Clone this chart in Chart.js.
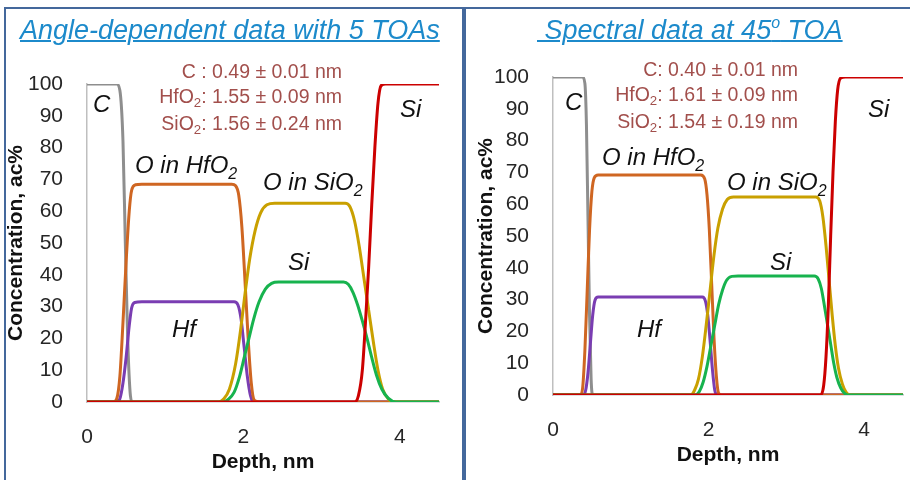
<!DOCTYPE html>
<html>
<head>
<meta charset="utf-8">
<script src="https://cdn.jsdelivr.net/npm/chart.js@4.4.1/dist/chart.umd.min.js"></script>
<style>
  html, body { margin: 0; padding: 0; background: #ffffff; }
  body { width: 910px; height: 480px; position: relative; overflow: hidden; font-family: "Liberation Sans", Arial, sans-serif; }
  canvas { position: absolute; }
  .frame { position: absolute; background: #44689C; }
  .title { position: absolute; font-style: italic; font-size: 27px; line-height: 27px; color: #1C8ACB; text-decoration: underline; text-decoration-thickness: 1.5px; white-space: pre; }
  .title sup { font-size: 16px; vertical-align: 0; position: relative; top: -11px; text-decoration: none; }
  .note { position: absolute; text-align: right; font-size: 19.5px; line-height: 25px; color: #A24F4C; white-space: nowrap; }
  .lbl { position: absolute; font-style: italic; font-size: 24px; line-height: 24px; color: #111111; white-space: nowrap; }
  .sub { font-size: 0.68em; position: relative; top: 0.3em; }
  .lbl .sub { font-size: 16px; top: 6px; }
</style>
</head>
<body>
<div class="frame" style="left:4px; top:7px; width:906px; height:2px;"></div>
<div class="frame" style="left:4px; top:7px; width:2px; height:473px;"></div>
<div class="frame" style="left:462px; top:7px; width:4px; height:473px;"></div>

<canvas id="leftChart" width="445" height="480" style="left:0px; top:0px;"></canvas>
<canvas id="rightChart" width="440" height="480" style="left:470px; top:-7px;"></canvas>

<div class="title" style="left:20px; top:17px;">Angle-dependent data with 5 TOAs</div>
<div class="title" style="left:537px; top:17px;">&nbsp;Spectral data at 45<sup>o</sup> TOA</div>

<div class="note" style="left:142px; width:200px; top:59px;">C : 0.49 ± 0.01 nm<br>HfO<span class="sub">2</span>: 1.55 ± 0.09 nm<br>SiO<span class="sub">2</span>: 1.56 ± 0.24 nm</div>
<div class="note" style="left:598px; width:200px; top:57px;">C: 0.40 ± 0.01 nm<br>HfO<span class="sub">2</span>: 1.61 ± 0.09 nm<br>SiO<span class="sub">2</span>: 1.54 ± 0.19 nm</div>

<div class="lbl" style="left:93px; top:92px;">C</div>
<div class="lbl" style="left:135px; top:153px;">O in HfO<span class="sub">2</span></div>
<div class="lbl" style="left:263px; top:170px;">O in SiO<span class="sub">2</span></div>
<div class="lbl" style="left:288px; top:250px;">Si</div>
<div class="lbl" style="left:172px; top:317px;">Hf</div>
<div class="lbl" style="left:400px; top:97px;">Si</div>

<div class="lbl" style="left:565px; top:90px;">C</div>
<div class="lbl" style="left:602px; top:145px;">O in HfO<span class="sub">2</span></div>
<div class="lbl" style="left:727px; top:170px;">O in SiO<span class="sub">2</span></div>
<div class="lbl" style="left:770px; top:250px;">Si</div>
<div class="lbl" style="left:637px; top:317px;">Hf</div>
<div class="lbl" style="left:868px; top:97px;">Si</div>

<script>
// ---------- Data (depth nm, concentration ac%) ----------
const xTicks = [0, 2, 4];
const yTicks = [0, 10, 20, 30, 40, 50, 60, 70, 80, 90, 100];
const seriesNames = ["Si", "Si in SiO2", "O in SiO2", "O in HfO2", "Hf", "C"];

// Left panel: angle-dependent data with 5 TOAs
const leftSiSub = [[0,0],[3.42,0],[3.47,2],[3.52,10],[3.56,25],[3.6,42],[3.64,62],[3.68,80],[3.72,94],[3.76,99.5],[3.82,100],[4.5,100]];
const leftSiOx  = [[0,0],[1.74,0],[1.8,0.7],[1.88,3],[1.95,8],[2.01,14],[2.07,20],[2.13,26],[2.2,31.5],[2.28,35.5],[2.36,37.3],[2.45,37.7],[3.28,37.7],[3.34,37],[3.4,34.5],[3.46,30.5],[3.52,25.5],[3.58,20],[3.64,14],[3.7,8.5],[3.77,4],[3.85,1.2],[3.95,0],[4.5,0]];
const leftOSiO2 = [[0,0],[1.68,0],[1.75,1],[1.82,4],[1.9,12],[1.96,22],[2.02,34],[2.08,45],[2.15,54],[2.22,59.5],[2.3,62],[2.4,62.5],[3.3,62.5],[3.36,61.5],[3.42,57],[3.48,49],[3.54,39],[3.6,29],[3.66,19],[3.72,10],[3.78,4],[3.85,1],[3.92,0],[4.5,0]];
const leftOHfO2 = [[0,0],[0.34,0],[0.38,1],[0.42,8],[0.46,25],[0.5,44],[0.54,60],[0.57,66.5],[0.62,68.3],[0.7,68.5],[1.85,68.5],[1.9,68],[1.94,65],[1.98,55],[2.02,38],[2.06,20],[2.1,6],[2.14,0.5],[2.2,0],[4.5,0]];
const leftHf    = [[0,0],[0.38,0],[0.42,1],[0.46,6],[0.5,14],[0.54,24],[0.57,29.5],[0.61,31.3],[0.7,31.5],[1.88,31.5],[1.93,30.5],[1.97,26],[2.01,17],[2.05,8],[2.09,2],[2.13,0],[4.5,0]];
const leftC     = [[0,100],[0.38,100],[0.42,98],[0.46,82],[0.49,50],[0.52,20],[0.555,2],[0.58,0],[4.5,0]];

// Right panel: spectral data at 45 deg TOA
const rightSiSub = [[0,0],[3.44,0],[3.48,3],[3.51,12],[3.54,28],[3.57,50],[3.6,70],[3.63,86],[3.66,96],[3.7,99.7],[3.76,100],[4.5,100]];
const rightSiOx  = [[0,0],[1.83,0],[1.88,1],[1.93,4],[1.98,9],[2.03,15.5],[2.08,22],[2.13,28.5],[2.18,33],[2.23,36],[2.3,37.3],[2.38,37.4],[3.36,37.4],[3.41,36.5],[3.45,33.5],[3.49,28],[3.53,22],[3.57,16],[3.61,10],[3.65,5.5],[3.7,2.2],[3.75,0.5],[3.8,0],[4.5,0]];
const rightOSiO2 = [[0,0],[1.77,0],[1.82,1.5],[1.87,5],[1.92,12],[1.97,22],[2.02,33],[2.07,44],[2.12,52.5],[2.18,58.5],[2.24,61.5],[2.32,62.3],[3.38,62.3],[3.43,61],[3.47,56],[3.51,47],[3.55,36],[3.59,25],[3.63,15.5],[3.67,8.5],[3.72,3.5],[3.77,0.8],[3.82,0],[4.5,0]];
const rightOHfO2 = [[0,0],[0.35,0],[0.38,2],[0.41,14],[0.44,33],[0.47,52],[0.5,64],[0.53,68.3],[0.58,69.2],[1.9,69.2],[1.95,68],[1.98,63],[2.01,52],[2.04,35],[2.07,18],[2.1,6],[2.13,0.5],[2.17,0],[4.5,0]];
const rightHf    = [[0,0],[0.39,0],[0.42,1.5],[0.45,7],[0.48,16],[0.51,25],[0.54,29.8],[0.58,30.8],[1.92,30.8],[1.96,29.5],[1.99,25],[2.02,17],[2.05,8],[2.08,1.5],[2.11,0],[4.5,0]];
const rightC     = [[0,100],[0.38,100],[0.41,98],[0.43,85],[0.45,55],[0.47,25],[0.49,5],[0.51,0],[4.5,0]];

const seriesColors = ["#CC0000", "#17B34E", "#C9A000", "#CF6622", "#7A3DB2", "#8E8E8E"];

function makeChart(id, seriesList, yAxisWidth) {
  const datasets = seriesList.map((pts, i) => ({
    label: seriesNames[i],
    data: pts.map(p => ({ x: p[0], y: p[1] })),
    borderColor: seriesColors[i],
    backgroundColor: seriesColors[i],
    borderWidth: 3,
    pointRadius: 0,
    fill: false,
    cubicInterpolationMode: "monotone",
    order: i
  }));
  return new Chart(document.getElementById(id), {
    type: "line",
    data: { datasets },
    options: {
      responsive: false,
      animation: false,
      layout: { padding: { top: 84, right: id === "leftChart" ? 6 : 7, bottom: 0, left: 0 } },
      plugins: { legend: { display: false }, tooltip: { enabled: false } },
      scales: {
        x: {
          type: "linear",
          min: 0, max: 4.5,
          grid: { display: false, drawTicks: false },
          border: { display: true, color: "#BFBFBF", width: 1.5 },
          afterBuildTicks: (s) => { s.ticks = xTicks.map(v => ({ value: v })); },
          ticks: { padding: 23, font: { family: "Liberation Sans", size: 21 }, color: "#262626", maxRotation: 0 },
          title: { display: true, text: "Depth, nm", color: "#111111", font: { family: "Liberation Sans", size: 21, weight: "bold" }, padding: { top: 0, bottom: 5 } },
          afterFit: (s) => { s.height = 78; }
        },
        y: {
          min: 0, max: 100,
          grid: { display: false, drawTicks: false },
          border: { display: true, color: "#BFBFBF", width: 1.5 },
          afterBuildTicks: (s) => { s.ticks = yTicks.map(v => ({ value: v })); },
          ticks: { padding: 24, font: { family: "Liberation Sans", size: 21 }, color: "#262626" },
          title: { display: true, text: "Concentration, ac%", color: "#111111", font: { family: "Liberation Sans", size: 21, weight: "bold" }, padding: { top: 4, bottom: 0 } },
          afterFit: (s) => { s.width = yAxisWidth; }
        }
      }
    }
  });
}

makeChart("leftChart", [leftSiSub, leftSiOx, leftOSiO2, leftOHfO2, leftHf, leftC], 87);
makeChart("rightChart", [rightSiSub, rightSiOx, rightOSiO2, rightOHfO2, rightHf, rightC], 83);
</script>
</body>
</html>
